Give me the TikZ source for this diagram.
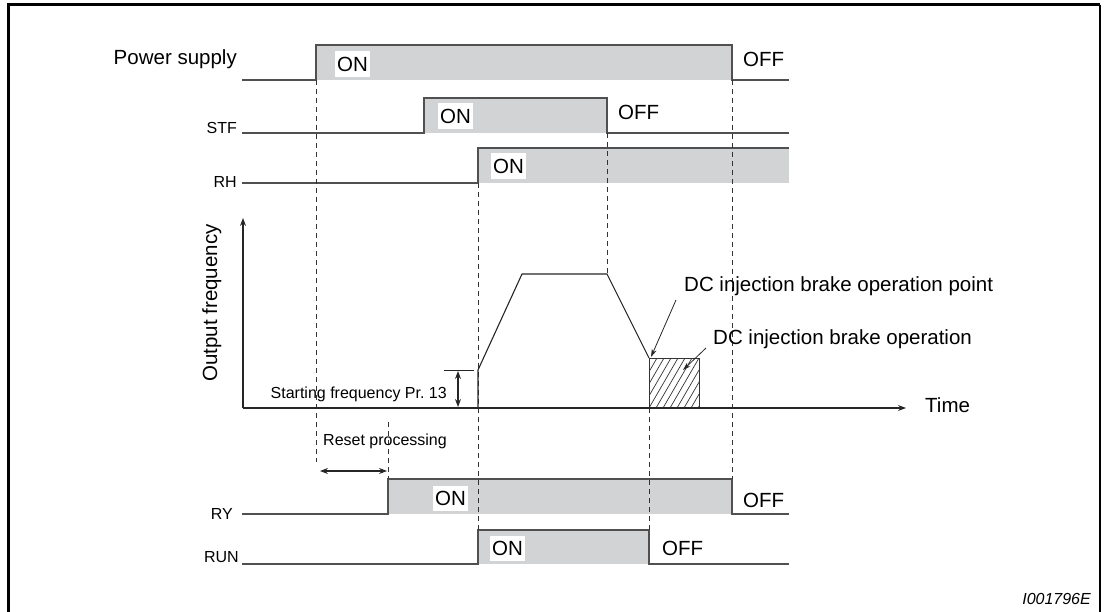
\documentclass[tikz,border=0pt]{standalone}
\usepackage{fontspec}
\setmainfont{Liberation Sans}
\usetikzlibrary{positioning,arrows.meta}
\definecolor{sigfill}{RGB}{210,211,213}
\definecolor{sigline}{RGB}{80,80,80}
\newcommand{\lblbig}{\fontsize{20.5}{24}\selectfont}
\newcommand{\lblsmall}{\fontsize{16}{19}\selectfont}
\tikzset{
  sig/.style      = {line width=1.4pt, draw=sigline, line join=miter},
  hiband/.style   = {fill=sigfill, draw=none},
  onlbl/.style    = {fill=white, inner xsep=2pt, inner ysep=5.5pt, font=\lblbig},
  offlbl/.style   = {anchor=base west, inner sep=0pt, font=\lblbig},
  siglbl/.style   = {anchor=base east, inner sep=0pt, font=\lblsmall},
  guide/.style    = {line width=0.9pt, black!80, dash pattern=on 5pt off 4pt},
  axis/.style     = {line width=1.1pt, black!85, -{Stealth[length=8pt,width=6pt]}},
  dimarr/.style   = {line width=1.1pt, black!85,
                     {Stealth[length=8pt,width=6pt]}-{Stealth[length=8pt,width=6pt]}},
  callout/.style  = {line width=0.8pt, black!85, -{Stealth[length=8pt,width=5pt]}},
  hatchln/.style  = {line width=0.7pt, black!80},
}
\begin{document}
\begin{tikzpicture}[x=1pt, y=-1pt]
\useasboundingbox (0,0) rectangle (1105,612);
% frame (open at the bottom)
\draw[line width=2.7pt] (8.7,612) -- (8.7,4.6) -- (1100,4.6);
\draw[line width=1.7pt] (1100,4.6) -- (1100,612);
% Power supply
\fill[hiband] (316,45) rectangle (732,80);
\draw[sig] (242,80) -- (316,80) -- (316,45) -- (732,45) -- (732,80) -- (789,80);
\node[anchor=base east, inner sep=0pt, font=\lblbig] (lps) at (237,65) {Power supply};
\node[onlbl] (ps-on) at (352.5,64) {ON};
\node[offlbl] (ps-off) at (743,67) {OFF};
% STF
\fill[hiband] (424,98) rectangle (607,133);
\draw[sig] (242,133) -- (424,133) -- (424,98) -- (607,98) -- (607,133) -- (789,133);
\node[siglbl] (lstf) at (237,134) {STF};
\node[onlbl] (stf-on) at (455.5,116) {ON};
\node[offlbl] (stf-off) at (618,120) {OFF};
% RH
\fill[hiband] (478,148) rectangle (789,183);
\draw[sig] (242,183) -- (478,183) -- (478,148) -- (789,148);
\node[siglbl] (lrh) at (237,188) {RH};
\node[onlbl] (rh-on) at (508.5,166) {ON};
% RY
\fill[hiband] (388,479) rectangle (732,514);
\draw[sig] (242,514) -- (388,514) -- (388,479) -- (732,479) -- (732,514) -- (789,514);
\node[siglbl] (lry) at (233,519) {RY};
\node[onlbl] (ry-on) at (450.5,498.5) {ON};
\node[offlbl] (ry-off) at (743,507) {OFF};
% RUN
\fill[hiband] (478,530) rectangle (649,564);
\draw[sig] (242,564) -- (478,564) -- (478,530) -- (649,530) -- (649,564) -- (789,564);
\node[siglbl] (lrun) at (239,562) {RUN};
\node[onlbl] (run-on) at (507.5,548.5) {ON};
\node[offlbl] (run-off) at (662,555) {OFF};
% Timing guides
\draw[guide] (316,80) -- (316,462);
\draw[guide] (388,422) -- (388,479);
\draw[guide] (478,183) -- (478,530);
\draw[guide] (607,133) -- (607,274);
\draw[guide] (732,80) -- (732,479);
\draw[guide] (649,408) -- (649,530);
% Output frequency chart
\coordinate (org) at (243,408);
\coordinate (ytop) at (243,218);
\coordinate (xend) at (906,408);
% DC brake block, hatched
\begin{scope}
  \clip (649,358) rectangle (699,408);
  \foreach \hx in {614,621,...,700}
    \draw[hatchln] (\hx,408) -- ++(29,-50);
\end{scope}
\draw[line width=1pt, black!80] (649,358) rectangle (699,408);
\draw[line width=1.1pt, black!85, line join=miter]
  (478,408) -- (478,370) -- (522,274) -- (607,274) -- (649,358);
\draw[axis] (org) -- (ytop);
\draw[axis] (org) -- (xend);
\node[rotate=90, anchor=base, inner sep=0pt, font=\lblbig] (lfreq) at (217,303) {Output frequency};
\node[anchor=base west, inner sep=0pt, font=\lblbig] (ltime) at (925,412) {Time};
% Starting frequency
\coordinate (sf-a) at (444,370);
\coordinate (sf-b) at (474,370);
\coordinate (sf-top) at (458,371);
\coordinate (sf-bot) at (458,407);
\draw[line width=1pt, black!85] (sf-a) -- (sf-b);
\draw[dimarr] (sf-top) -- (sf-bot);
\node[anchor=base east, inner sep=0pt, font=\lblsmall] (lsf) at (447,398) {Starting frequency Pr.\ 13};
% DC injection brake
\node[anchor=base west, inner sep=0pt, font=\lblbig] (ldcp) at (684,291) {DC injection brake operation point};
\node[anchor=base west, inner sep=0pt, font=\lblbig] (ldco) at (713,344) {DC injection brake operation};
\coordinate (dcp-s) at (676,300);
\coordinate (dcp-e) at (651,357);
\coordinate (dco-s) at (706,348);
\coordinate (dco-e) at (683,370);
\draw[callout] (dcp-s) -- (dcp-e);
\draw[callout] (dco-s) -- (dco-e);
% Reset processing
\node[anchor=base west, inner sep=0pt, font=\lblsmall] (lreset) at (323,445) {Reset processing};
\coordinate (rs-a) at (320,471);
\coordinate (rs-b) at (387,471);
\draw[dimarr] (rs-a) -- (rs-b);
% figure id
\node[anchor=base east, inner sep=0pt, font=\lblsmall\itshape] (fid) at (1091,604) {I001796E};
\end{tikzpicture}
\end{document}
